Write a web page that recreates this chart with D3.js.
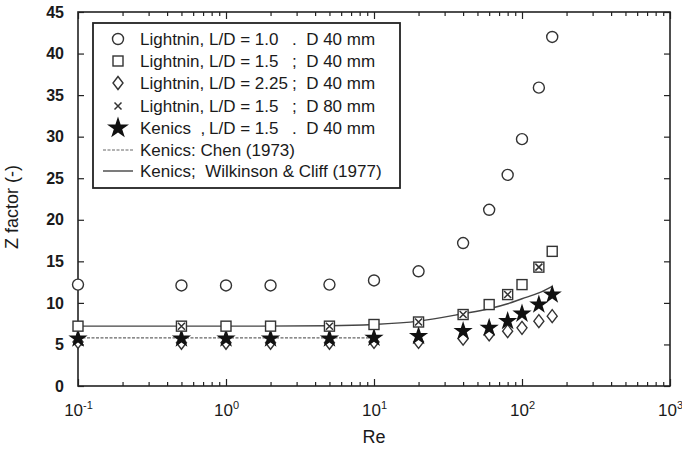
<!doctype html>
<html>
<head>
<meta charset="utf-8">
<script src="https://d3js.org/d3.v7.min.js"></script>
<style>
  body { margin:0; background:#fff; }
  svg { display:block; }
  text { font-family: "Liberation Sans", Arial, sans-serif; fill:#1a1a1a; }
  .tick text { font-size:16px; font-weight:bold; }
</style>
</head>
<body>
<script>
// data
var re = [0.1, 0.5, 1, 2, 5, 10, 20, 40, 60, 80, 100, 130, 160];
var zCircle  = [12.2, 12.1, 12.1, 12.1, 12.2, 12.7, 13.8, 17.2, 21.2, 25.4, 29.7, 35.9, 42.0];
var zSquare  = [7.2, 7.2, 7.2, 7.2, 7.2, 7.4, 7.7, 8.6, 9.8, 11.0, 12.2, 14.3, 16.2];
var zDiamond = [5.3, 5.2, 5.2, 5.2, 5.2, 5.3, 5.3, 5.7, 6.2, 6.6, 7.0, 7.8, 8.4];
var zStar    = [5.7, 5.7, 5.7, 5.7, 5.7, 5.8, 6.0, 6.6, 7.0, 7.8, 8.7, 9.8, 11.0];
var reCross  = [0.5, 5, 20, 40, 80, 130];
var zCross   = [7.2, 7.2, 7.7, 8.6, 11.0, 14.3];
var reChen = [0.1, 10];
var zChen  = [5.8, 5.8];
var reWilk = [0.1, 1, 5, 10, 20, 40, 60, 80, 100, 130, 160];
var zWilk  = [7.2, 7.2, 7.25, 7.4, 7.8, 8.7, 9.3, 9.9, 10.5, 11.2, 12.0];
var yTicks = [0, 5, 10, 15, 20, 25, 30, 35, 40, 45];
var xMajor = [0.1, 1, 10, 100, 1000];
var xExp = ["-1", "0", "1", "2", "3"];
var legendNames = ["Lightnin,", "Lightnin,", "Lightnin,", "Lightnin,", "Kenics  ,", "Kenics: Chen (1973)", "Kenics;  Wilkinson & Cliff (1977)"];
var legendLD = ["L/D = 1.0", "L/D = 1.5", "L/D = 2.25", "L/D = 1.5", "L/D = 1.5"];
var legendD = [".  D 40 mm", ";  D 40 mm", ";  D 40 mm", ";  D 80 mm", ".  D 40 mm"];

var W = 682, H = 452;
var L = 78, R = 670, T = 12, B = 386;
var svg = d3.select("body").append("svg").attr("width", W).attr("height", H);

var x = d3.scaleLog().domain([0.1, 1000]).range([L, R]);
var y = d3.scaleLinear().domain([0, 45]).range([B, T]);

var xMinor = [];
[0.1, 1, 10, 100].forEach(function(d) {
    for (var k = 2; k <= 9; k++) xMinor.push(d * k);
});

var ink = "#222";

// frame
svg.append("rect").attr("x", L).attr("y", T).attr("width", R - L).attr("height", B - T)
    .attr("fill", "none").attr("stroke", ink).attr("stroke-width", 1.6);

// x axis bottom: major + minor, inward ticks
var gxb = svg.append("g").attr("transform", "translate(0," + B + ")")
    .call(d3.axisBottom(x).tickValues(xMajor).tickSize(-7).tickFormat(function() { return ""; }));
svg.append("g").attr("transform", "translate(0," + B + ")")
    .call(d3.axisBottom(x).tickValues(xMinor).tickSize(-4).tickFormat(""));
svg.append("g").attr("transform", "translate(0," + T + ")")
    .call(d3.axisTop(x).tickValues(xMajor).tickSize(-7).tickFormat(""));
svg.append("g").attr("transform", "translate(0," + T + ")")
    .call(d3.axisTop(x).tickValues(xMinor).tickSize(-4).tickFormat(""));

// x labels 10^n
gxb.selectAll(".tick").each(function(d, i) {
    var t = d3.select(this).append("text").attr("y", 30).attr("text-anchor", "middle")
        .attr("fill", ink).style("font-size", "17px").style("font-weight", "normal");
    t.append("tspan").text("10");
    t.append("tspan").attr("dy", -7).style("font-size", "11px").text(xExp[i]);
});

// y axes
svg.append("g").attr("transform", "translate(" + L + ",0)")
    .call(d3.axisLeft(y).tickValues(yTicks).tickSize(-6).tickPadding(14));
svg.append("g").attr("transform", "translate(" + R + ",0)")
    .call(d3.axisRight(y).tickValues(yTicks).tickSize(-6).tickFormat(""));

svg.selectAll(".domain").remove();
svg.selectAll(".tick line").attr("stroke", ink).attr("stroke-width", 1.2);
svg.selectAll(".tick text").attr("fill", ink);

// axis titles
svg.append("text").attr("x", (L + R) / 2).attr("y", 443).attr("text-anchor", "middle")
    .style("font-size", "18px").text("Re");
svg.append("text").attr("transform", "translate(18,207) rotate(-90)")
    .attr("text-anchor", "middle").style("font-size", "18px").text("Z factor (-)");

// lines
var line = d3.line().x(function(d) { return x(d[0]); }).y(function(d) { return y(d[1]); });
svg.append("path").datum(d3.zip(reChen, zChen)).attr("d", line)
    .attr("fill", "none").attr("stroke", "#666").attr("stroke-width", 1.2).attr("stroke-dasharray", "3,1.5");
svg.append("path").datum(d3.zip(reWilk, zWilk)).attr("d", line.curve(d3.curveMonotoneX))
    .attr("fill", "none").attr("stroke", "#444").attr("stroke-width", 1.4);

var mk = "#333";
function drawMarker(g, type, big) {
    if (type === "circle") {
        g.append("circle").attr("r", 5.5).attr("fill", "#fff").attr("stroke", mk).attr("stroke-width", 1.4);
    } else if (type === "square") {
        g.append("rect").attr("x", -5).attr("y", -5).attr("width", 10).attr("height", 10)
            .attr("fill", "#fff").attr("stroke", mk).attr("stroke-width", 1.4);
    } else if (type === "diamond") {
        g.append("path").attr("d", "M0,-6.5L5,0L0,6.5L-5,0Z")
            .attr("fill", "#fff").attr("stroke", mk).attr("stroke-width", 1.4);
    } else if (type === "cross") {
        g.append("path").attr("d", "M-3.5,-3.5L3.5,3.5M-3.5,3.5L3.5,-3.5")
            .attr("fill", "none").attr("stroke", mk).attr("stroke-width", 1.5);
    } else if (type === "star") {
        g.append("path").attr("d", d3.symbol(d3.symbolStar, big ? 150 : 115)()).attr("fill", "#111");
    }
}

function drawSeries(xs, ys, type) {
    svg.append("g").selectAll("g").data(d3.zip(xs, ys)).enter().append("g")
        .attr("transform", function(d) { return "translate(" + x(d[0]) + "," + y(d[1]) + ")"; })
        .each(function() { drawMarker(d3.select(this), type); });
}
drawSeries(re, zDiamond, "diamond");
drawSeries(re, zStar, "star");
drawSeries(re, zSquare, "square");
drawSeries(reCross, zCross, "cross");
drawSeries(re, zCircle, "circle");

// legend
var lg = svg.append("g");
lg.append("rect").attr("x", 93).attr("y", 23).attr("width", 307).attr("height", 165)
    .attr("fill", "#fff").attr("stroke", ink).attr("stroke-width", 1.8);
var rowY = [39, 61, 83, 106, 128, 150, 171];
var types = ["circle", "square", "diamond", "cross", "star"];
types.forEach(function(t, i) {
    drawMarker(lg.append("g").attr("transform", "translate(118," + rowY[i] + ")"), t, true);
});
lg.append("line").attr("x1", 103).attr("x2", 133).attr("y1", rowY[5]).attr("y2", rowY[5])
    .attr("stroke", "#666").attr("stroke-width", 1.2).attr("stroke-dasharray", "3,1.5");
lg.append("line").attr("x1", 103).attr("x2", 133).attr("y1", rowY[6]).attr("y2", rowY[6])
    .attr("stroke", "#444").attr("stroke-width", 1.4);
legendNames.forEach(function(s, i) {
    lg.append("text").attr("x", 140).attr("y", rowY[i] + 6).style("font-size", "17px")
        .style("white-space", "pre").text(s);
});
legendLD.forEach(function(s, i) {
    lg.append("text").attr("x", 209).attr("y", rowY[i] + 6).style("font-size", "17px").text(s);
});
legendD.forEach(function(s, i) {
    lg.append("text").attr("x", 292).attr("y", rowY[i] + 6).style("font-size", "17px")
        .style("white-space", "pre").text(s);
});
</script>
</body>
</html>
